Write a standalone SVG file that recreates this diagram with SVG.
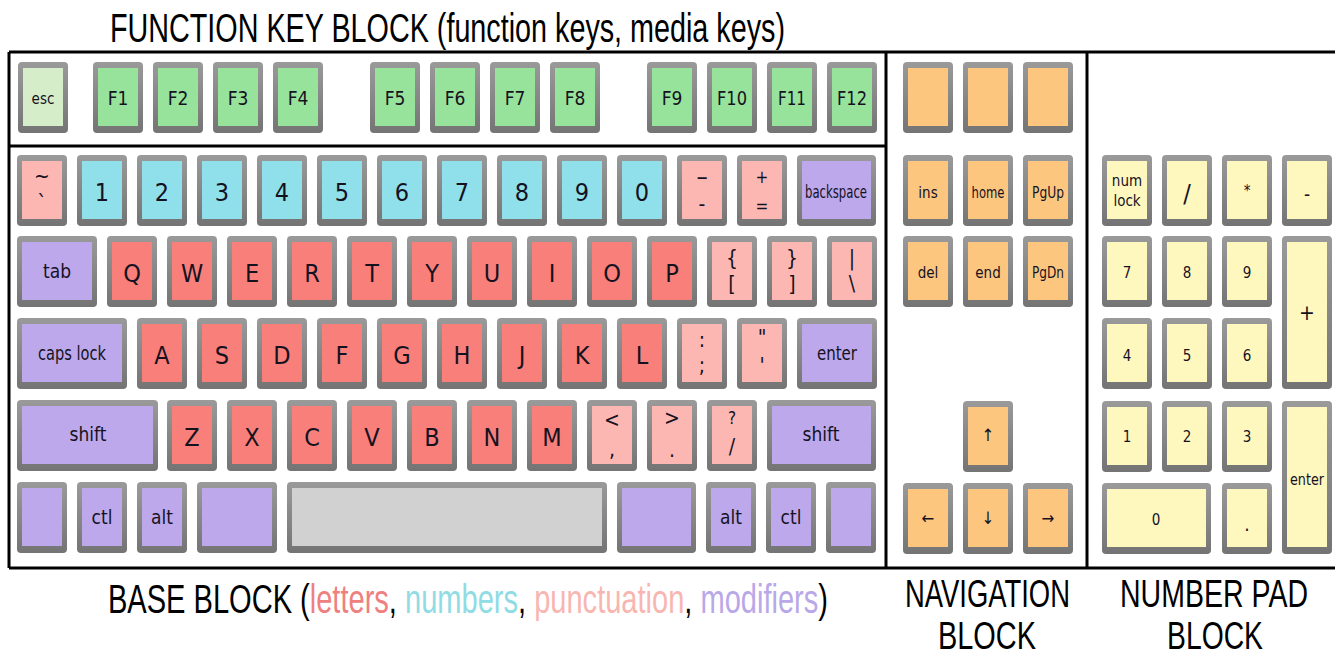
<svg xmlns="http://www.w3.org/2000/svg" width="1335" height="654" viewBox="0 0 1335 654">
<defs>
<linearGradient id="kg" x1="0" y1="0" x2="0" y2="1">
<stop offset="0" stop-color="#9a9a9a"/>
<stop offset="1" stop-color="#747474"/>
</linearGradient>
</defs>
<style>
.o{fill:url(#kg);}
.esc{fill:#d6edca}.fn{fill:#97e39b}.num{fill:#8fe0ea}.let{fill:#f97f7b}.pun{fill:#fdb7b3}.mod{fill:#bca8ea}.spc{fill:#d1d1d1}.nav{fill:#fdc67f}.pad{fill:#fef8bf}
text{font-family:"DejaVu Sans Condensed","DejaVu Sans",sans-serif;font-stretch:condensed;fill:#15121f;text-anchor:middle;dominant-baseline:central}
.t13{font-size:14px}.t15{font-size:15px}.t17{font-size:17px}.t19{font-size:19px}.t21{font-size:21px}.t25{font-size:25px}
.ttl{font-family:"Liberation Sans",Arial,sans-serif;font-stretch:normal;text-anchor:start;dominant-baseline:auto;fill:#000}
.frame{fill:none;stroke:#000;stroke-width:3}
</style>

<g id="frame">
<path class="frame" d="M9 52 H1335 M9 568 H1335 M9 52 V568 M9 146 H886 M886 52 V568 M1087 52 V568"/>
</g>

<g id="titles">
<text class="ttl" x="110" y="42" font-size="40" textLength="675" lengthAdjust="spacingAndGlyphs">FUNCTION KEY BLOCK (function keys, media keys)</text>
<text class="ttl" x="108" y="613" font-size="40" textLength="720" lengthAdjust="spacingAndGlyphs">BASE BLOCK (<tspan fill="#ef8080">letters</tspan>, <tspan fill="#8fdce4">numbers</tspan>, <tspan fill="#f8b6b1">punctuation</tspan>, <tspan fill="#b9a8e7">modifiers</tspan>)</text>
<text class="ttl" x="905" y="607" font-size="38" textLength="165" lengthAdjust="spacingAndGlyphs">NAVIGATION</text>
<text class="ttl" x="938" y="649" font-size="38" textLength="98" lengthAdjust="spacingAndGlyphs">BLOCK</text>
<text class="ttl" x="1120" y="607" font-size="38" textLength="188" lengthAdjust="spacingAndGlyphs">NUMBER PAD</text>
<text class="ttl" x="1167" y="649" font-size="38" textLength="96" lengthAdjust="spacingAndGlyphs">BLOCK</text>
</g>

<g id="function-block">
<g id="k-esc"><rect class="o" x="18" y="62" width="50" height="71" rx="4"/><rect class="esc" x="23" y="68" width="40" height="58"/><text class="t15" x="43" y="99">esc</text></g>
<g id="k-f1"><rect class="o" x="93" y="62" width="50" height="71" rx="4"/><rect class="fn" x="98" y="68" width="40" height="58"/><text class="t19" x="118" y="98">F1</text></g>
<g id="k-f2"><rect class="o" x="153" y="62" width="50" height="71" rx="4"/><rect class="fn" x="158" y="68" width="40" height="58"/><text class="t19" x="178" y="98">F2</text></g>
<g id="k-f3"><rect class="o" x="213" y="62" width="50" height="71" rx="4"/><rect class="fn" x="218" y="68" width="40" height="58"/><text class="t19" x="238" y="98">F3</text></g>
<g id="k-f4"><rect class="o" x="273" y="62" width="50" height="71" rx="4"/><rect class="fn" x="278" y="68" width="40" height="58"/><text class="t19" x="298" y="98">F4</text></g>
<g id="k-f5"><rect class="o" x="370" y="62" width="50" height="71" rx="4"/><rect class="fn" x="375" y="68" width="40" height="58"/><text class="t19" x="395" y="98">F5</text></g>
<g id="k-f6"><rect class="o" x="430" y="62" width="50" height="71" rx="4"/><rect class="fn" x="435" y="68" width="40" height="58"/><text class="t19" x="455" y="98">F6</text></g>
<g id="k-f7"><rect class="o" x="490" y="62" width="50" height="71" rx="4"/><rect class="fn" x="495" y="68" width="40" height="58"/><text class="t19" x="515" y="98">F7</text></g>
<g id="k-f8"><rect class="o" x="550" y="62" width="50" height="71" rx="4"/><rect class="fn" x="555" y="68" width="40" height="58"/><text class="t19" x="575" y="98">F8</text></g>
<g id="k-f9"><rect class="o" x="647" y="62" width="50" height="71" rx="4"/><rect class="fn" x="652" y="68" width="40" height="58"/><text class="t19" x="672" y="98">F9</text></g>
<g id="k-f10"><rect class="o" x="707" y="62" width="50" height="71" rx="4"/><rect class="fn" x="712" y="68" width="40" height="58"/><text class="t19" x="732" y="98" textLength="30" lengthAdjust="spacingAndGlyphs">F10</text></g>
<g id="k-f11"><rect class="o" x="767" y="62" width="50" height="71" rx="4"/><rect class="fn" x="772" y="68" width="40" height="58"/><text class="t19" x="792" y="98" textLength="28" lengthAdjust="spacingAndGlyphs">F11</text></g>
<g id="k-f12"><rect class="o" x="827" y="62" width="50" height="71" rx="4"/><rect class="fn" x="832" y="68" width="40" height="58"/><text class="t19" x="852" y="98" textLength="30" lengthAdjust="spacingAndGlyphs">F12</text></g>
</g>

<g id="base-block">
<g id="k-tilde"><rect class="o" x="17" y="155" width="50" height="71" rx="4"/><rect class="pun" x="22" y="161" width="40" height="58"/><text class="t21" x="42" y="176">~</text><text class="t21" x="42" y="203">`</text></g>
<g id="k-1"><rect class="o" x="77" y="155" width="50" height="71" rx="4"/><rect class="num" x="82" y="161" width="40" height="58"/><text class="t25" x="102" y="192">1</text></g>
<g id="k-2"><rect class="o" x="137" y="155" width="50" height="71" rx="4"/><rect class="num" x="142" y="161" width="40" height="58"/><text class="t25" x="162" y="192">2</text></g>
<g id="k-3"><rect class="o" x="197" y="155" width="50" height="71" rx="4"/><rect class="num" x="202" y="161" width="40" height="58"/><text class="t25" x="222" y="192">3</text></g>
<g id="k-4"><rect class="o" x="257" y="155" width="50" height="71" rx="4"/><rect class="num" x="262" y="161" width="40" height="58"/><text class="t25" x="282" y="192">4</text></g>
<g id="k-5"><rect class="o" x="317" y="155" width="50" height="71" rx="4"/><rect class="num" x="322" y="161" width="40" height="58"/><text class="t25" x="342" y="192">5</text></g>
<g id="k-6"><rect class="o" x="377" y="155" width="50" height="71" rx="4"/><rect class="num" x="382" y="161" width="40" height="58"/><text class="t25" x="402" y="192">6</text></g>
<g id="k-7"><rect class="o" x="437" y="155" width="50" height="71" rx="4"/><rect class="num" x="442" y="161" width="40" height="58"/><text class="t25" x="462" y="192">7</text></g>
<g id="k-8"><rect class="o" x="497" y="155" width="50" height="71" rx="4"/><rect class="num" x="502" y="161" width="40" height="58"/><text class="t25" x="522" y="192">8</text></g>
<g id="k-9"><rect class="o" x="557" y="155" width="50" height="71" rx="4"/><rect class="num" x="562" y="161" width="40" height="58"/><text class="t25" x="582" y="192">9</text></g>
<g id="k-0"><rect class="o" x="617" y="155" width="50" height="71" rx="4"/><rect class="num" x="622" y="161" width="40" height="58"/><text class="t25" x="642" y="192">0</text></g>
<g id="k-minus"><rect class="o" x="677" y="155" width="50" height="71" rx="4"/><rect class="pun" x="682" y="161" width="40" height="58"/><text class="t25" x="702" y="176">–</text><text class="t21" x="702" y="204">-</text></g>
<g id="k-plus"><rect class="o" x="737" y="155" width="50" height="71" rx="4"/><rect class="pun" x="742" y="161" width="40" height="58"/><text class="t17" x="762" y="177">+</text><text class="t17" x="762" y="206">=</text></g>
<g id="k-backspace"><rect class="o" x="797" y="155" width="79" height="71" rx="4"/><rect class="mod" x="802" y="161" width="69" height="58"/><text class="t17" x="836" y="192" textLength="62" lengthAdjust="spacingAndGlyphs">backspace</text></g>

<g id="k-tab"><rect class="o" x="17" y="236" width="80" height="71" rx="4"/><rect class="mod" x="22" y="242" width="70" height="58"/><text class="t19" x="57" y="271">tab</text></g>
<g id="k-q"><rect class="o" x="107" y="236" width="50" height="71" rx="4"/><rect class="let" x="112" y="242" width="40" height="58"/><text class="t25" x="132" y="273">Q</text></g>
<g id="k-w"><rect class="o" x="167" y="236" width="50" height="71" rx="4"/><rect class="let" x="172" y="242" width="40" height="58"/><text class="t25" x="192" y="273">W</text></g>
<g id="k-e"><rect class="o" x="227" y="236" width="50" height="71" rx="4"/><rect class="let" x="232" y="242" width="40" height="58"/><text class="t25" x="252" y="273">E</text></g>
<g id="k-r"><rect class="o" x="287" y="236" width="50" height="71" rx="4"/><rect class="let" x="292" y="242" width="40" height="58"/><text class="t25" x="312" y="273">R</text></g>
<g id="k-t"><rect class="o" x="347" y="236" width="50" height="71" rx="4"/><rect class="let" x="352" y="242" width="40" height="58"/><text class="t25" x="372" y="273">T</text></g>
<g id="k-y"><rect class="o" x="407" y="236" width="50" height="71" rx="4"/><rect class="let" x="412" y="242" width="40" height="58"/><text class="t25" x="432" y="273">Y</text></g>
<g id="k-u"><rect class="o" x="467" y="236" width="50" height="71" rx="4"/><rect class="let" x="472" y="242" width="40" height="58"/><text class="t25" x="492" y="273">U</text></g>
<g id="k-i"><rect class="o" x="527" y="236" width="50" height="71" rx="4"/><rect class="let" x="532" y="242" width="40" height="58"/><text class="t25" x="552" y="273">I</text></g>
<g id="k-o"><rect class="o" x="587" y="236" width="50" height="71" rx="4"/><rect class="let" x="592" y="242" width="40" height="58"/><text class="t25" x="612" y="273">O</text></g>
<g id="k-p"><rect class="o" x="647" y="236" width="50" height="71" rx="4"/><rect class="let" x="652" y="242" width="40" height="58"/><text class="t25" x="672" y="273">P</text></g>
<g id="k-lbrace"><rect class="o" x="707" y="236" width="50" height="71" rx="4"/><rect class="pun" x="712" y="242" width="40" height="58"/><text class="t21" x="732" y="258">{</text><text class="t21" x="732" y="284">[</text></g>
<g id="k-rbrace"><rect class="o" x="767" y="236" width="50" height="71" rx="4"/><rect class="pun" x="772" y="242" width="40" height="58"/><text class="t21" x="792" y="258">}</text><text class="t21" x="792" y="284">]</text></g>
<g id="k-pipe"><rect class="o" x="827" y="236" width="50" height="71" rx="4"/><rect class="pun" x="832" y="242" width="40" height="58"/><text class="t21" x="852" y="258">|</text><text class="t21" x="852" y="284">\</text></g>

<g id="k-caps"><rect class="o" x="17" y="318" width="110" height="71" rx="4"/><rect class="mod" x="22" y="324" width="100" height="58"/><text class="t19" x="72" y="353" textLength="68" lengthAdjust="spacingAndGlyphs">caps lock</text></g>
<g id="k-a"><rect class="o" x="137" y="318" width="50" height="71" rx="4"/><rect class="let" x="142" y="324" width="40" height="58"/><text class="t25" x="162" y="355">A</text></g>
<g id="k-s"><rect class="o" x="197" y="318" width="50" height="71" rx="4"/><rect class="let" x="202" y="324" width="40" height="58"/><text class="t25" x="222" y="355">S</text></g>
<g id="k-d"><rect class="o" x="257" y="318" width="50" height="71" rx="4"/><rect class="let" x="262" y="324" width="40" height="58"/><text class="t25" x="282" y="355">D</text></g>
<g id="k-f"><rect class="o" x="317" y="318" width="50" height="71" rx="4"/><rect class="let" x="322" y="324" width="40" height="58"/><text class="t25" x="342" y="355">F</text></g>
<g id="k-g"><rect class="o" x="377" y="318" width="50" height="71" rx="4"/><rect class="let" x="382" y="324" width="40" height="58"/><text class="t25" x="402" y="355">G</text></g>
<g id="k-h"><rect class="o" x="437" y="318" width="50" height="71" rx="4"/><rect class="let" x="442" y="324" width="40" height="58"/><text class="t25" x="462" y="355">H</text></g>
<g id="k-j"><rect class="o" x="497" y="318" width="50" height="71" rx="4"/><rect class="let" x="502" y="324" width="40" height="58"/><text class="t25" x="522" y="355">J</text></g>
<g id="k-k"><rect class="o" x="557" y="318" width="50" height="71" rx="4"/><rect class="let" x="562" y="324" width="40" height="58"/><text class="t25" x="582" y="355">K</text></g>
<g id="k-l"><rect class="o" x="617" y="318" width="50" height="71" rx="4"/><rect class="let" x="622" y="324" width="40" height="58"/><text class="t25" x="642" y="355">L</text></g>
<g id="k-semicolon"><rect class="o" x="677" y="318" width="50" height="71" rx="4"/><rect class="pun" x="682" y="324" width="40" height="58"/><text class="t21" x="702" y="340">:</text><text class="t21" x="702" y="366">;</text></g>
<g id="k-quote"><rect class="o" x="737" y="318" width="50" height="71" rx="4"/><rect class="pun" x="742" y="324" width="40" height="58"/><text class="t21" x="762" y="338">"</text><text class="t21" x="762" y="366">'</text></g>
<g id="k-enter"><rect class="o" x="797" y="318" width="80" height="71" rx="4"/><rect class="mod" x="802" y="324" width="70" height="58"/><text class="t19" x="837" y="353" textLength="40" lengthAdjust="spacingAndGlyphs">enter</text></g>

<g id="k-lshift"><rect class="o" x="17" y="400" width="141" height="71" rx="4"/><rect class="mod" x="22" y="406" width="131" height="58"/><text class="t19" x="88" y="434">shift</text></g>
<g id="k-z"><rect class="o" x="167" y="400" width="50" height="71" rx="4"/><rect class="let" x="172" y="406" width="40" height="58"/><text class="t25" x="192" y="437">Z</text></g>
<g id="k-x"><rect class="o" x="227" y="400" width="50" height="71" rx="4"/><rect class="let" x="232" y="406" width="40" height="58"/><text class="t25" x="252" y="437">X</text></g>
<g id="k-c"><rect class="o" x="287" y="400" width="50" height="71" rx="4"/><rect class="let" x="292" y="406" width="40" height="58"/><text class="t25" x="312" y="437">C</text></g>
<g id="k-v"><rect class="o" x="347" y="400" width="50" height="71" rx="4"/><rect class="let" x="352" y="406" width="40" height="58"/><text class="t25" x="372" y="437">V</text></g>
<g id="k-b"><rect class="o" x="407" y="400" width="50" height="71" rx="4"/><rect class="let" x="412" y="406" width="40" height="58"/><text class="t25" x="432" y="437">B</text></g>
<g id="k-n"><rect class="o" x="467" y="400" width="50" height="71" rx="4"/><rect class="let" x="472" y="406" width="40" height="58"/><text class="t25" x="492" y="437">N</text></g>
<g id="k-m"><rect class="o" x="527" y="400" width="50" height="71" rx="4"/><rect class="let" x="532" y="406" width="40" height="58"/><text class="t25" x="552" y="437">M</text></g>
<g id="k-comma"><rect class="o" x="587" y="400" width="50" height="71" rx="4"/><rect class="pun" x="592" y="406" width="40" height="58"/><text class="t21" x="612" y="420">&lt;</text><text class="t21" x="612" y="450">,</text></g>
<g id="k-period"><rect class="o" x="647" y="400" width="50" height="71" rx="4"/><rect class="pun" x="652" y="406" width="40" height="58"/><text class="t21" x="672" y="418">&gt;</text><text class="t21" x="672" y="450">.</text></g>
<g id="k-slash"><rect class="o" x="707" y="400" width="50" height="71" rx="4"/><rect class="pun" x="712" y="406" width="40" height="58"/><text class="t17" x="732" y="418">?</text><text class="t21" x="732" y="447">/</text></g>
<g id="k-rshift"><rect class="o" x="767" y="400" width="109" height="71" rx="4"/><rect class="mod" x="772" y="406" width="99" height="58"/><text class="t19" x="821" y="434">shift</text></g>

<g id="k-lfn"><rect class="o" x="17" y="482" width="50" height="71" rx="4"/><rect class="mod" x="22" y="488" width="40" height="58"/></g>
<g id="k-lctl"><rect class="o" x="77" y="482" width="50" height="71" rx="4"/><rect class="mod" x="82" y="488" width="40" height="58"/><text class="t19" x="102" y="517">ctl</text></g>
<g id="k-lalt"><rect class="o" x="137" y="482" width="50" height="71" rx="4"/><rect class="mod" x="142" y="488" width="40" height="58"/><text class="t19" x="162" y="517">alt</text></g>
<g id="k-lcmd"><rect class="o" x="197" y="482" width="80" height="71" rx="4"/><rect class="mod" x="202" y="488" width="70" height="58"/></g>
<g id="k-space"><rect class="o" x="287" y="482" width="320" height="71" rx="4"/><rect class="spc" x="292" y="488" width="310" height="58"/></g>
<g id="k-rcmd"><rect class="o" x="617" y="482" width="79" height="71" rx="4"/><rect class="mod" x="622" y="488" width="69" height="58"/></g>
<g id="k-ralt"><rect class="o" x="706" y="482" width="50" height="71" rx="4"/><rect class="mod" x="711" y="488" width="40" height="58"/><text class="t19" x="731" y="517">alt</text></g>
<g id="k-rctl"><rect class="o" x="766" y="482" width="50" height="71" rx="4"/><rect class="mod" x="771" y="488" width="40" height="58"/><text class="t19" x="791" y="517">ctl</text></g>
<g id="k-rfn"><rect class="o" x="826" y="482" width="50" height="71" rx="4"/><rect class="mod" x="831" y="488" width="40" height="58"/></g>
</g>

<g id="navigation-block">
<g id="k-nav1"><rect class="o" x="903" y="62" width="50" height="71" rx="4"/><rect class="nav" x="908" y="68" width="40" height="58"/></g>
<g id="k-nav2"><rect class="o" x="963" y="62" width="50" height="71" rx="4"/><rect class="nav" x="968" y="68" width="40" height="58"/></g>
<g id="k-nav3"><rect class="o" x="1023" y="62" width="50" height="71" rx="4"/><rect class="nav" x="1028" y="68" width="40" height="58"/></g>
<g id="k-ins"><rect class="o" x="903" y="155" width="50" height="71" rx="4"/><rect class="nav" x="908" y="161" width="40" height="58"/><text class="t15" x="928" y="193">ins</text></g>
<g id="k-home"><rect class="o" x="963" y="155" width="50" height="71" rx="4"/><rect class="nav" x="968" y="161" width="40" height="58"/><text class="t15" x="988" y="193" textLength="33" lengthAdjust="spacingAndGlyphs">home</text></g>
<g id="k-pgup"><rect class="o" x="1023" y="155" width="50" height="71" rx="4"/><rect class="nav" x="1028" y="161" width="40" height="58"/><text class="t15" x="1048" y="193" textLength="32" lengthAdjust="spacingAndGlyphs">PgUp</text></g>
<g id="k-del"><rect class="o" x="903" y="236" width="50" height="71" rx="4"/><rect class="nav" x="908" y="242" width="40" height="58"/><text class="t15" x="928" y="273">del</text></g>
<g id="k-end"><rect class="o" x="963" y="236" width="50" height="71" rx="4"/><rect class="nav" x="968" y="242" width="40" height="58"/><text class="t15" x="988" y="273">end</text></g>
<g id="k-pgdn"><rect class="o" x="1023" y="236" width="50" height="71" rx="4"/><rect class="nav" x="1028" y="242" width="40" height="58"/><text class="t15" x="1048" y="273" textLength="32" lengthAdjust="spacingAndGlyphs">PgDn</text></g>
<g id="k-up"><rect class="o" x="963" y="401" width="50" height="71" rx="4"/><rect class="nav" x="968" y="407" width="40" height="58"/><text class="t17" x="988" y="435">↑</text></g>
<g id="k-left"><rect class="o" x="903" y="483" width="50" height="71" rx="4"/><rect class="nav" x="908" y="489" width="40" height="58"/><text class="t17" x="928" y="518">←</text></g>
<g id="k-down"><rect class="o" x="963" y="483" width="50" height="71" rx="4"/><rect class="nav" x="968" y="489" width="40" height="58"/><text class="t17" x="988" y="518">↓</text></g>
<g id="k-right"><rect class="o" x="1023" y="483" width="50" height="71" rx="4"/><rect class="nav" x="1028" y="489" width="40" height="58"/><text class="t17" x="1048" y="518">→</text></g>
</g>

<g id="number-pad-block">
<g id="k-numlock"><rect class="o" x="1102" y="155" width="50" height="71" rx="4"/><rect class="pad" x="1107" y="161" width="40" height="58"/><text class="t15" x="1127" y="181">num</text><text class="t15" x="1127" y="201">lock</text></g>
<g id="k-div"><rect class="o" x="1162" y="155" width="50" height="71" rx="4"/><rect class="pad" x="1167" y="161" width="40" height="58"/><text class="t25" x="1187" y="193">/</text></g>
<g id="k-mul"><rect class="o" x="1222" y="155" width="50" height="71" rx="4"/><rect class="pad" x="1227" y="161" width="40" height="58"/><text class="t15" x="1247" y="191">*</text></g>
<g id="k-sub"><rect class="o" x="1282" y="155" width="50" height="71" rx="4"/><rect class="pad" x="1287" y="161" width="40" height="58"/><text class="t19" x="1307" y="194">-</text></g>
<g id="k-p7"><rect class="o" x="1102" y="236" width="50" height="71" rx="4"/><rect class="pad" x="1107" y="242" width="40" height="58"/><text class="t15" x="1127" y="273">7</text></g>
<g id="k-p8"><rect class="o" x="1162" y="236" width="50" height="71" rx="4"/><rect class="pad" x="1167" y="242" width="40" height="58"/><text class="t15" x="1187" y="273">8</text></g>
<g id="k-p9"><rect class="o" x="1222" y="236" width="50" height="71" rx="4"/><rect class="pad" x="1227" y="242" width="40" height="58"/><text class="t15" x="1247" y="273">9</text></g>
<g id="k-add"><rect class="o" x="1282" y="236" width="50" height="153" rx="4"/><rect class="pad" x="1287" y="242" width="40" height="140"/><text class="t21" x="1307" y="313">+</text></g>
<g id="k-p4"><rect class="o" x="1102" y="318" width="50" height="71" rx="4"/><rect class="pad" x="1107" y="324" width="40" height="58"/><text class="t15" x="1127" y="356">4</text></g>
<g id="k-p5"><rect class="o" x="1162" y="318" width="50" height="71" rx="4"/><rect class="pad" x="1167" y="324" width="40" height="58"/><text class="t15" x="1187" y="356">5</text></g>
<g id="k-p6"><rect class="o" x="1222" y="318" width="50" height="71" rx="4"/><rect class="pad" x="1227" y="324" width="40" height="58"/><text class="t15" x="1247" y="356">6</text></g>
<g id="k-p1"><rect class="o" x="1102" y="401" width="50" height="71" rx="4"/><rect class="pad" x="1107" y="407" width="40" height="58"/><text class="t15" x="1127" y="437">1</text></g>
<g id="k-p2"><rect class="o" x="1162" y="401" width="50" height="71" rx="4"/><rect class="pad" x="1167" y="407" width="40" height="58"/><text class="t15" x="1187" y="437">2</text></g>
<g id="k-p3"><rect class="o" x="1222" y="401" width="50" height="71" rx="4"/><rect class="pad" x="1227" y="407" width="40" height="58"/><text class="t15" x="1247" y="437">3</text></g>
<g id="k-penter"><rect class="o" x="1282" y="401" width="50" height="153" rx="4"/><rect class="pad" x="1287" y="407" width="40" height="140"/><text class="t15" x="1307" y="480" textLength="34" lengthAdjust="spacingAndGlyphs">enter</text></g>
<g id="k-p0"><rect class="o" x="1102" y="483" width="109" height="71" rx="4"/><rect class="pad" x="1107" y="489" width="99" height="58"/><text class="t15" x="1156" y="520">0</text></g>
<g id="k-pdot"><rect class="o" x="1222" y="483" width="50" height="71" rx="4"/><rect class="pad" x="1227" y="489" width="40" height="58"/><text class="t19" x="1247" y="524">.</text></g>
</g>
</svg>
